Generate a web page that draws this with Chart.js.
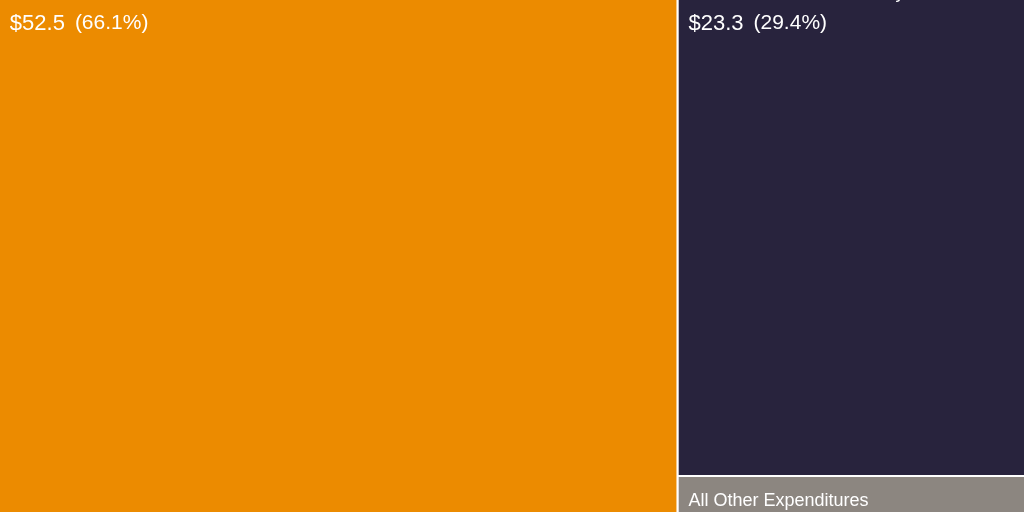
<!DOCTYPE html>
<html>
<head>
<meta charset="utf-8">
<script src="https://cdn.jsdelivr.net/npm/chart.js@4.4.1/dist/chart.umd.min.js"></script>
<style>
  html, body { margin: 0; padding: 0; background: #fff; overflow: hidden; }
  canvas { display: block; }
</style>
</head>
<body>
<canvas id="treemap" width="1024" height="512"></canvas>
<script>
// datos del treemap (miles de millones)
const categories = ["Personnel Services", "Local Government Subsidy", "All Other Expenditures"];
const amounts = [52.5, 23.3, 3.6];
const shares = ["66.1%", "29.4%", "4.5%"];
const colors = ["#ec8b00", "#28233d", "#8c8680"];

// marco del treemap en unidades de escala (ancho x alto)
const FRAME_W = 175;
const FRAME_H = 100;

// squarify sencillo, devuelve rectangulos en unidades de escala
function worst(row, side) {
    const sum = row.reduce((a, r) => a + r.area, 0);
    const max = Math.max(...row.map((r) => r.area));
    const min = Math.min(...row.map((r) => r.area));
    return Math.max((side * side * max) / (sum * sum), (sum * sum) / (side * side * min));
}

function squarify(items, x, y, w, h) {
    const out = [];
    let rest = items.slice();
    while (rest.length) {
        const side = Math.min(w, h);
        const row = [rest[0]];
        let i = 1;
        while (i < rest.length && worst(row.concat(rest[i]), side) <= worst(row, side)) {
            row.push(rest[i]);
            i++;
        }
        rest = rest.slice(i);
        const sum = row.reduce((a, r) => a + r.area, 0);
        if (w >= h) {
            const cw = sum / h;
            let cy = y;
            row.forEach((r) => {
                const rh = r.area / cw;
                out.push({ ...r, x0: x, x1: x + cw, y0: cy, y1: cy + rh });
                cy += rh;
            });
            x += cw;
            w -= cw;
        } else {
            const rh = sum / w;
            let cx = x;
            row.forEach((r) => {
                const rw = r.area / rh;
                out.push({ ...r, x0: cx, x1: cx + rw, y0: y, y1: y + rh });
                cx += rw;
            });
            y += rh;
            h -= rh;
        }
    }
    return out;
}

const total = amounts.reduce((a, b) => a + b, 0);
const items = categories.map((name, i) => ({
    index: i,
    area: (amounts[i] / total) * FRAME_W * FRAME_H,
}));
const cells = squarify(items, 0, 0, FRAME_W, FRAME_H);

const datasets = cells.map((c) => ({
    label: categories[c.index],
    data: [
        { x: c.x0, y: c.y0 },
        { x: c.x1, y: c.y0 },
        { x: c.x1, y: c.y1 },
        { x: c.x0, y: c.y1 },
        { x: c.x0, y: c.y0 },
    ],
    showLine: true,
    fill: "shape",
    backgroundColor: colors[c.index],
    borderColor: "#ffffff",
    borderWidth: 2,
    pointRadius: 0,
    tension: 0,
    clip: 0,
}));

// etiquetas dentro de cada celda
const cellLabels = {
    id: "cellLabels",
    afterDatasetsDraw(chart) {
        const { ctx, chartArea, scales } = chart;
        ctx.save();
        ctx.beginPath();
        ctx.rect(chartArea.left, chartArea.top, chartArea.width, chartArea.height);
        ctx.clip();
        cells.forEach((c) => {
            const left = scales.x.getPixelForValue(c.x0);
            const right = scales.x.getPixelForValue(c.x1);
            const top = scales.y.getPixelForValue(c.y0);
            const bottom = scales.y.getPixelForValue(c.y1);
            ctx.save();
            ctx.beginPath();
            ctx.rect(left, top, right - left, bottom - top);
            ctx.clip();
            ctx.fillStyle = "#ffffff";
            ctx.textBaseline = "alphabetic";
            ctx.textAlign = "left";
            ctx.font = "18px 'Liberation Sans', Arial, sans-serif";
            ctx.fillText(categories[c.index], left + 11, top + 30);
            const value = "$" + amounts[c.index].toFixed(1);
            ctx.font = "22px 'Liberation Sans', Arial, sans-serif";
            ctx.fillText(value, left + 11, top + 62);
            const w = ctx.measureText(value).width;
            ctx.font = "21px 'Liberation Sans', Arial, sans-serif";
            ctx.fillText("(" + shares[c.index] + ")", left + 11 + w + 10, top + 61);
            ctx.restore();
        });
        ctx.restore();
    },
};

new Chart(document.getElementById("treemap"), {
    type: "scatter",
    data: { datasets },
    options: {
        responsive: false,
        animation: false,
        events: [],
        layout: { padding: 0 },
        scales: {
            x: { type: "linear", min: 0.2, max: FRAME_W - 0.2, display: false },
            y: { type: "linear", min: 5.46, max: 92.76, reverse: true, display: false },
        },
        plugins: {
            legend: { display: false },
            tooltip: { enabled: false },
        },
    },
    plugins: [cellLabels],
});
</script>
</body>
</html>
